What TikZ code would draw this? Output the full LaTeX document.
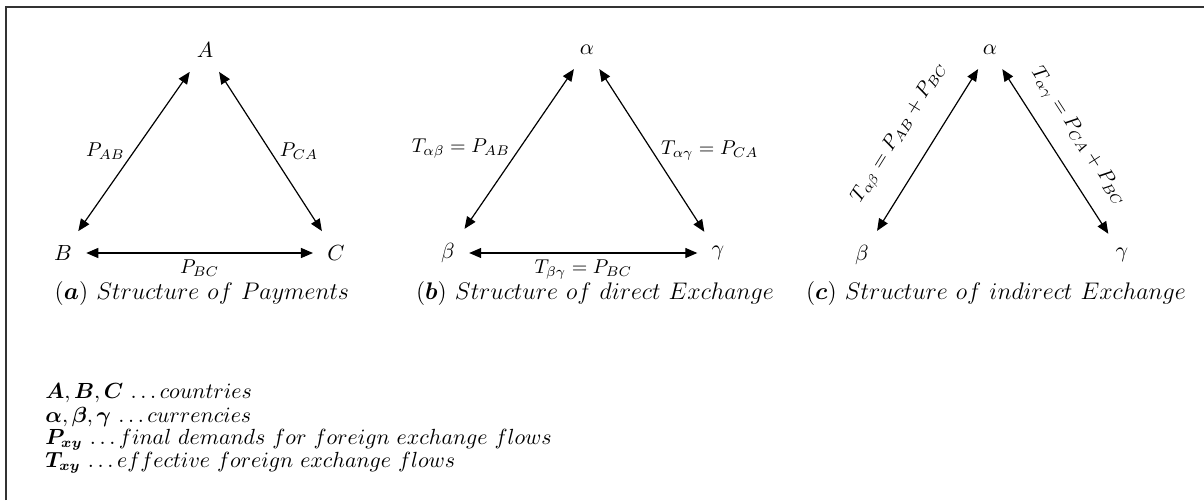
\documentclass[tikz,border=0pt]{standalone}
\usepackage{amsmath,bm}
\usetikzlibrary{arrows.meta}

\begin{document}
\begin{tikzpicture}[x=0.5pt,y=0.5pt,
  vtx/.style={inner sep=7pt,font=\fontsize{11}{13}\selectfont},
  flow/.style={{Triangle[length=6pt,width=5pt]}-{Triangle[length=6pt,width=5pt]},line width=0.6pt},
  lbl/.style={font=\fontsize{10}{12}\selectfont},
  capt/.style={font=\fontsize{12.5}{14}\selectfont},
  keyline/.style={anchor=west,inner sep=0pt,font=\fontsize{10.5}{12}\selectfont}]
\useasboundingbox (0,0) rectangle (1204,500);
\draw[line width=1.2pt,black!80] (6,0) -- (6,493) -- (1204,493);
% (a) payments between countries
\node[vtx] (A) at (205,450) {$A$};
\node[vtx] (B) at (63,247) {$B$};
\node[vtx] (C) at (336,247) {$C$};
\draw[flow] (A) -- node[lbl,left=1pt] {$P_{AB}$} (B);
\draw[flow] (A) -- node[lbl,right=1pt] {$P_{CA}$} (C);
\draw[flow] (B) -- node[lbl,below] {$P_{BC}$} (C);
\node[capt] (capa) at (202,207) {$(\boldsymbol{a})\ Structure\ of\ Payments$};
% (b) direct exchange
\node[vtx] (al1) at (587,450) {$\alpha$};
\node[vtx] (be1) at (448,247) {$\beta$};
\node[vtx] (ga1) at (718,247) {$\gamma$};
\draw[flow] (al1) -- node[lbl,left=1pt] {$T_{\alpha\beta}=P_{AB}$} (be1);
\draw[flow] (al1) -- node[lbl,right=1pt] {$T_{\alpha\gamma}=P_{CA}$} (ga1);
\draw[flow] (be1) -- node[lbl,below] {$T_{\beta\gamma}=P_{BC}$} (ga1);
\node[capt] (capb) at (595,207) {$(\boldsymbol{b})\ Structure\ of\ direct\ Exchange$};
% (c) indirect exchange
\node[vtx] (al2) at (990,450) {$\alpha$};
\node[vtx] (be2) at (862,245) {$\beta$};
\node[vtx] (ga2) at (1122,245) {$\gamma$};
\draw[flow] (be2) -- node[lbl,sloped,above=8pt,pos=0.5] {$T_{\alpha\beta}=P_{AB}+P_{BC}$} (al2);
\draw[flow] (al2) -- node[lbl,sloped,above=5pt,pos=0.5] {$T_{\alpha\gamma}=P_{CA}+P_{BC}$} (ga2);
\node[capt] (capc) at (996,207) {$(\boldsymbol{c})\ Structure\ of\ indirect\ Exchange$};
% key
\node[keyline] (k1) at (45,107) {$\boldsymbol{A},\boldsymbol{B},\boldsymbol{C}\,\dots countries$};
\node[keyline] (k2) at (45,83) {$\boldsymbol{\alpha},\boldsymbol{\beta},\boldsymbol{\gamma}\,\dots currencies$};
\node[keyline] (k3) at (45,60) {$\boldsymbol{P_{xy}}\,\dots final\ demands\ for\ foreign\ exchange\ flows$};
\node[keyline] (k4) at (45,37) {$\boldsymbol{T_{xy}}\,\dots effective\ foreign\ exchange\ flows$};
\end{tikzpicture}
\end{document}
